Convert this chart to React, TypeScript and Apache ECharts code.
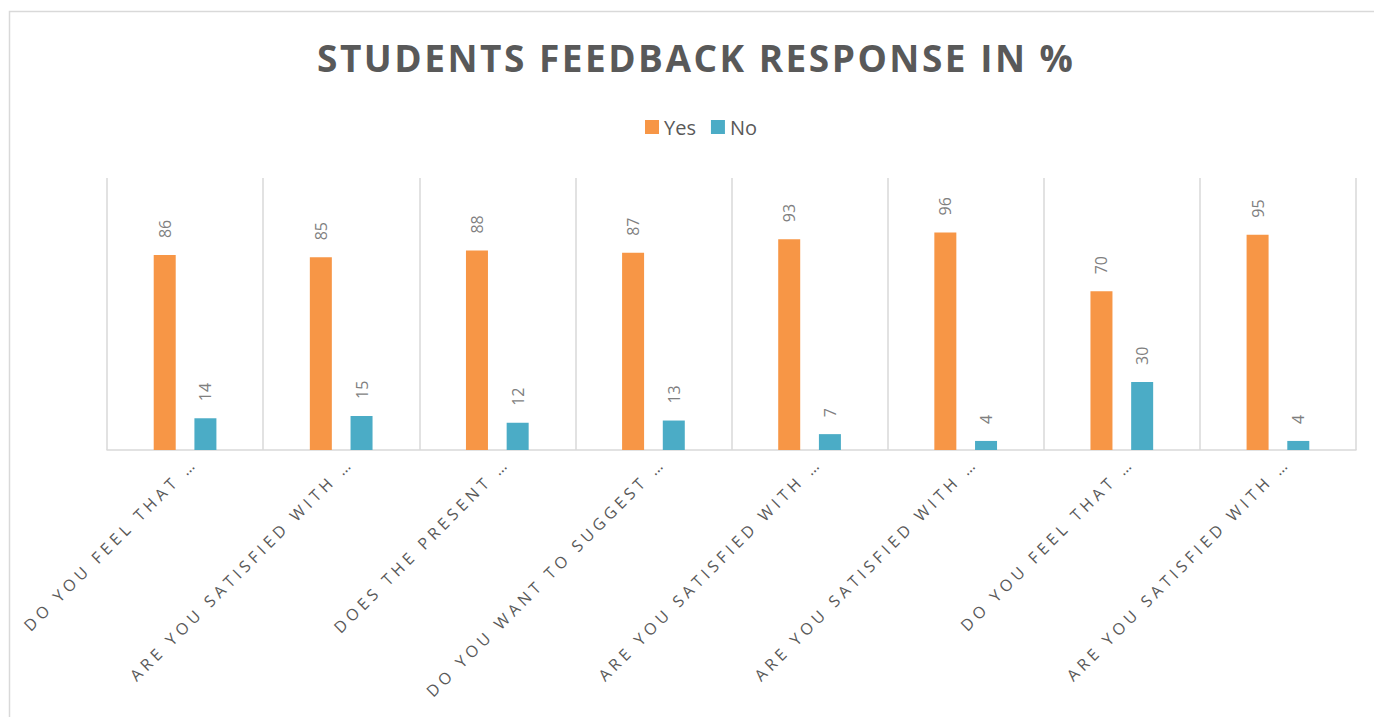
import React, { useEffect, useRef } from "react";
import * as echarts from "echarts";

const categories = [
  "DO YOU FEEL THAT …",
  "ARE YOU SATISFIED WITH …",
  "DOES THE PRESENT …",
  "DO YOU WANT TO SUGGEST …",
  "ARE YOU SATISFIED WITH …",
  "ARE YOU SATISFIED WITH …",
  "DO YOU FEEL THAT …",
  "ARE YOU SATISFIED WITH …",
];
const yesValues = [86, 85, 88, 87, 93, 96, 70, 95];
const noValues = [14, 15, 12, 13, 7, 4, 30, 4];
const titleText = "STUDENTS FEEDBACK RESPONSE IN %";

export default function App() {
  const ref = useRef<HTMLDivElement>(null);
  useEffect(() => {
    document.body.style.margin = "0";
    const chart = echarts.init(ref.current!, null, { renderer: "svg" });
    const labelStyle = {
      show: true,
      position: "top",
      rotate: 90,
      align: "left",
      verticalAlign: "middle",
      distance: 17,
      color: "#7F7F7F",
      fontSize: 16,
      fontFamily: "Open Sans",
    };
    const applySpacing = () => {
      const root = ref.current;
      if (!root) return;
      root.querySelectorAll("text").forEach((t) => {
        const txt = t.textContent || "";
        if (txt === titleText) t.setAttribute("letter-spacing", "2.5");
        else if (categories.includes(txt)) t.setAttribute("letter-spacing", "4.3");
      });
    };
    chart.on("rendered", applySpacing);
    chart.on("finished", applySpacing);
    chart.setOption({
      animation: false,
      backgroundColor: "#FFFFFF",
      title: {
        text: titleText,
        left: 312,
        top: 34,
        textStyle: {
          fontFamily: "Open Sans",
          fontWeight: "bold",
          fontSize: 37,
          color: "#595959",
        },
      },
      legend: {
        top: 112,
        left: 640,
        itemWidth: 14,
        itemHeight: 14,
        itemGap: 15,
        icon: "rect",
        textStyle: { fontFamily: "Open Sans", fontSize: 20, color: "#595959" },
        data: ["Yes", "No"],
      },
      graphic: [
        {
          type: "rect",
          shape: { x: 9.5, y: 11.5, width: 1400, height: 800 },
          style: { fill: "none", stroke: "#D9D9D9", lineWidth: 1.5 },
          silent: true,
          z: -1,
        },
      ],
      grid: { left: 107, right: 18, top: 178, bottom: 267, containLabel: false },
      xAxis: {
        type: "category",
        data: categories,
        axisLine: { show: true, lineStyle: { color: "#D9D9D9", width: 1.5 } },
        axisTick: { show: false },
        splitLine: { show: true, lineStyle: { color: "#D9D9D9", width: 1.5 } },
        axisLabel: {
          rotate: 45,
          interval: 0,
          margin: 1,
          verticalAlign: "top",
          lineHeight: 26,
          color: "#595959",
          fontSize: 16,
          fontFamily: "Open Sans",
        },
      },
      yAxis: {
        type: "value",
        min: 0,
        max: 120,
        show: false,
        splitLine: { show: false },
      },
      series: [
        {
          name: "Yes",
          type: "bar",
          data: yesValues,
          barWidth: 22,
          barGap: "85%",
          itemStyle: { color: "#F79646" },
          label: labelStyle,
        },
        {
          name: "No",
          type: "bar",
          data: noValues,
          barWidth: 22,
          barGap: "85%",
          itemStyle: { color: "#4BACC6" },
          label: labelStyle,
        },
      ],
    });
    applySpacing();
    return () => chart.dispose();
  }, []);
  return <div ref={ref} style={{ width: 1374, height: 717 }} />;
}
